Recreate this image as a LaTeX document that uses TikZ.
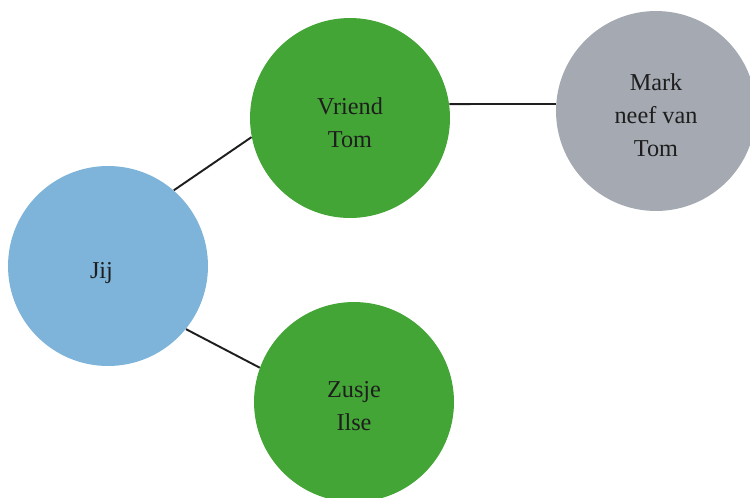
\documentclass[tikz,border=0pt]{standalone}
\usepackage{fontspec}
\setmainfont{Liberation Serif}
\definecolor{cblue}{RGB}{126,179,218}
\definecolor{cgreen}{RGB}{67,165,53}
\definecolor{cgray}{RGB}{164,169,178}
\definecolor{ctext}{RGB}{30,30,30}
\begin{document}
\begin{tikzpicture}[x=0.02cm,y=-0.02cm,
  person/.style={circle,minimum size=4cm,inner sep=0pt},
  txt/.style={align=center,text=ctext,inner sep=0pt,yshift=-0.09cm,
    font=\fontsize{13.8pt}{18.8pt}\selectfont},
  link/.style={draw=ctext,line width=1.1pt}]
\useasboundingbox (0,0) rectangle (750,497);
\node[person,fill=cblue,label={[txt,xshift=-0.13cm,yshift=-0.05cm]center:Jij}] (jij) at (108,266) {};
\node[person,fill=cgreen,label={[txt]center:Vriend\\Tom}] (vriend) at (350,118) {};
\node[person,fill=cgray,label={[txt]center:Mark\\neef van\\Tom}] (mark) at (656,111) {};
\node[person,fill=cgreen,label={[txt]center:Zusje\\Ilse}] (zusje) at (354,402) {};
\draw[link] (jij.49) -- (vriend.191);
\draw[link] (jij.-39) -- (zusje.160);
\draw[link] (vriend.8) -- (mark.176);
\end{tikzpicture}
\end{document}
